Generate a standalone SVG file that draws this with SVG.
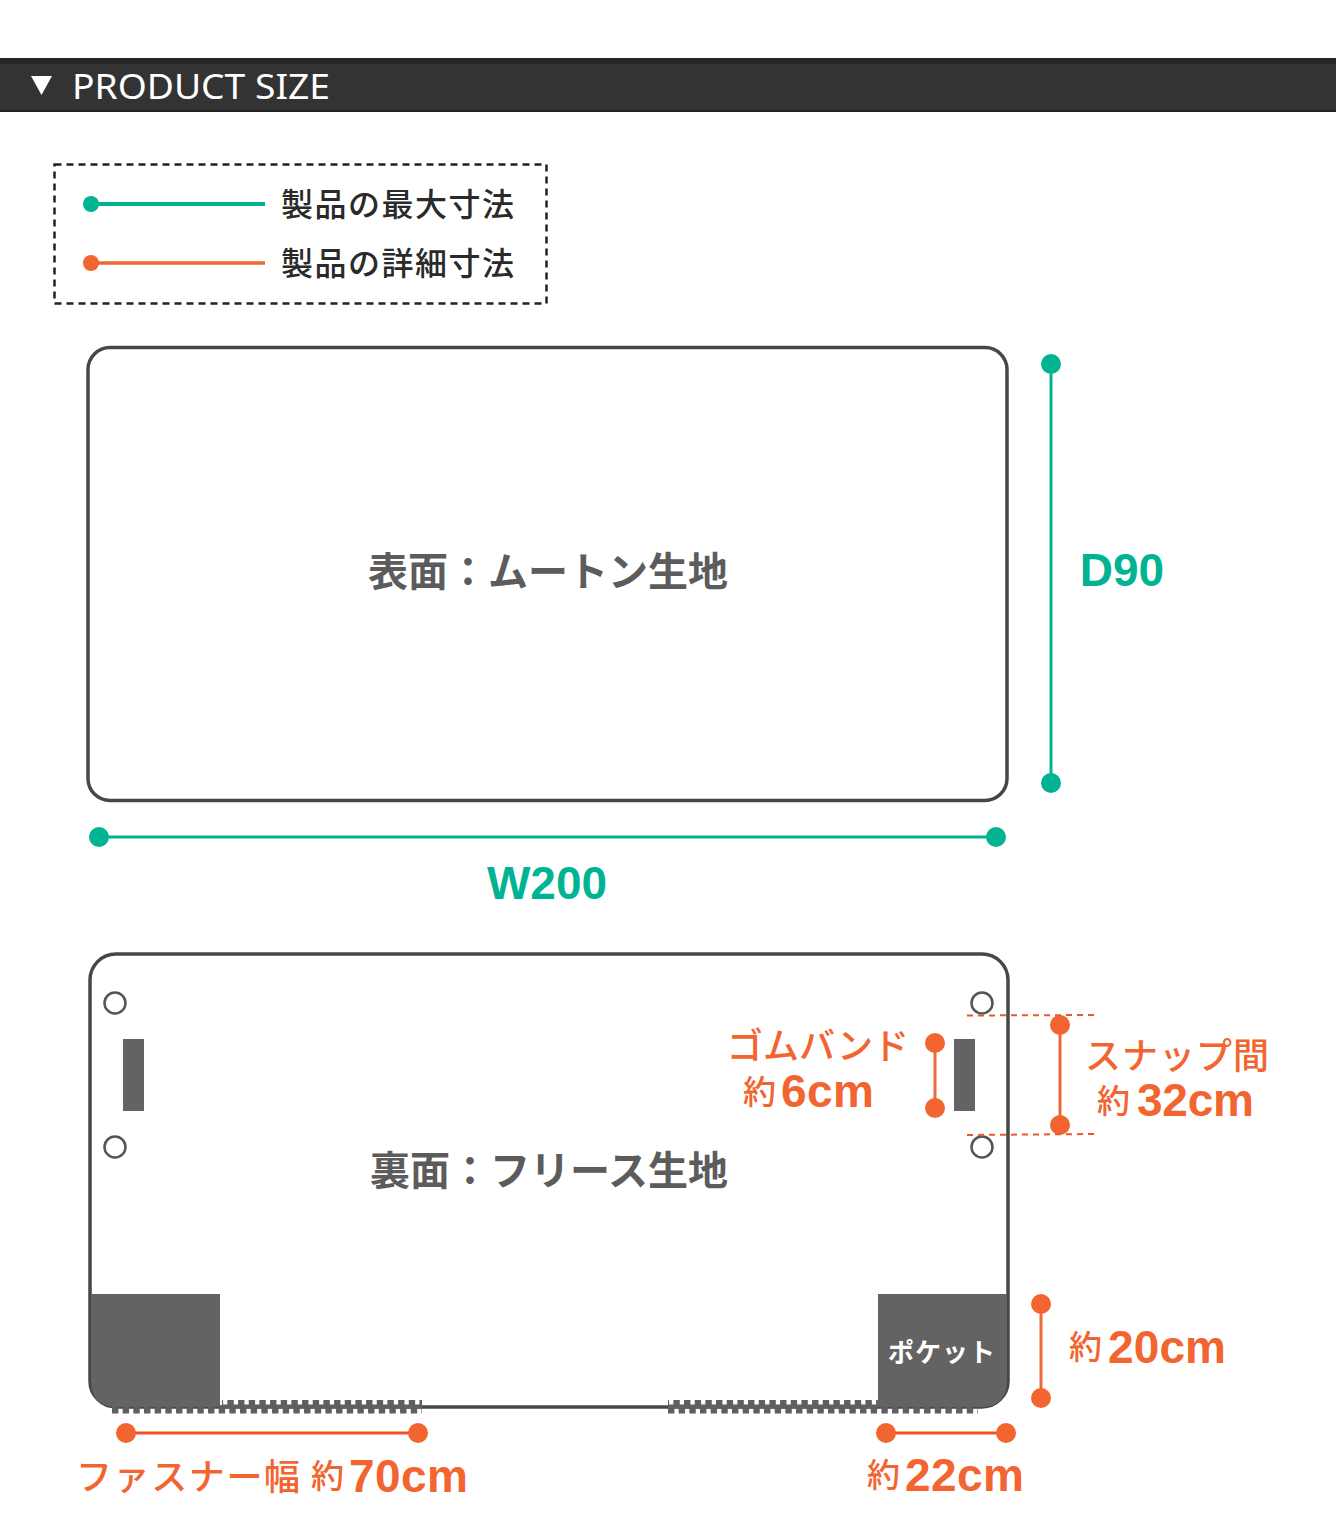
<svg xmlns="http://www.w3.org/2000/svg" width="1336" height="1536" viewBox="0 0 1336 1536">
<defs>
<style>
text{font-family:"Noto Sans CJK JP","Noto Sans",sans-serif}
.o{fill:#f26430}.g{fill:#00b493}
.ol{stroke:#e8693a;stroke-width:3;fill:none}.gl{stroke:#00b493;stroke-width:3;fill:none}
.dot{stroke:#e85a28;stroke-width:2;stroke-dasharray:6 5;fill:none}
.num{font-family:"Liberation Sans",Arial,sans-serif;font-weight:700}
.big{font-size:40px;font-weight:700;fill:#5c5c5c}
.lab{font-size:36px;fill:#f26430;font-weight:500}
.yak{font-size:33px;fill:#f26430;font-weight:500}
.cnt{font-size:46px;fill:#f26430}
.leg{font-size:32px;fill:#2a2a2a;font-weight:500}
.tooth{stroke:#5f5f5f;stroke-width:7;stroke-dasharray:6.4 4.27;fill:none}
.hole{fill:#fff;stroke:#555;stroke-width:2.5}
.dark{fill:#636363}
.board{fill:#fff;stroke:#474747;stroke-width:3.500}
</style>
</defs>
<rect width="1336" height="1536" fill="#fff"/>
<g id="header">
<rect x="0" y="58" width="1336" height="54" fill="#333"/>
<rect x="0" y="58" width="1336" height="6" fill="#262626"/>
<rect x="0" y="110" width="1336" height="2" fill="#222"/>
<polygon points="31,76 52,76 41.500,95" fill="#fff"/>
<text x="72" y="99" font-size="35" fill="#fff" style="font-family:'Noto Sans',sans-serif" textLength="258" lengthAdjust="spacingAndGlyphs">PRODUCT SIZE</text>
</g>
<g id="legend">
<rect x="54.500" y="164.500" width="492" height="139" fill="none" stroke="#222" stroke-width="2.500" stroke-dasharray="7 5"/>
<circle cx="91" cy="204" r="8" class="g"/>
<line x1="91" y1="204" x2="265" y2="204" class="gl" style="stroke-width:4"/>
<text x="281" y="216" class="leg" textLength="233">製品の最大寸法</text>
<circle cx="91" cy="263" r="8" class="o"/>
<line x1="91" y1="263" x2="265" y2="263" class="ol" style="stroke:#f26430;stroke-width:3.500"/>
<text x="281" y="275" class="leg" textLength="233">製品の詳細寸法</text>
</g>
<g id="front-panel">
<rect x="88" y="347.500" width="919" height="453" rx="22" class="board"/>
<text x="548" y="586" text-anchor="middle" class="big">表面：ムートン生地</text>
</g>
<g id="back-panel">
<rect x="90" y="954" width="918" height="453" rx="26" class="board"/>
<path class="dark" d="M91,1294H220V1407H116Q91,1407 91,1380Z"/>
<path class="dark" d="M878,1294H1007V1380Q1007,1407 982,1407H878Z"/>
<circle cx="115" cy="1003" r="10.500" class="hole"/>
<circle cx="115" cy="1147" r="10.500" class="hole"/>
<circle cx="982" cy="1003" r="10.500" class="hole"/>
<circle cx="982" cy="1147" r="10.500" class="hole"/>
<rect x="123" y="1039" width="21" height="72" class="dark"/>
<rect x="954" y="1039" width="21" height="72" class="dark"/>
<text x="549" y="1185" text-anchor="middle" class="big">裏面：フリース生地</text>
<text x="942" y="1362" text-anchor="middle" font-size="26" font-weight="700" fill="#fff" letter-spacing="1">ポケット</text>
</g>
<g id="zippers">
<line x1="222" y1="1403.500" x2="422" y2="1403.500" class="tooth" stroke-dashoffset="5.3"/>
<line x1="112" y1="1410" x2="422" y2="1410" class="tooth"/>
<rect x="222" y="1404.500" width="200" height="4" fill="#5f5f5f"/>
<line x1="668" y1="1403.500" x2="878" y2="1403.500" class="tooth" stroke-dashoffset="5.3"/>
<line x1="668" y1="1410" x2="978" y2="1410" class="tooth"/>
<rect x="668" y="1404.500" width="210" height="4" fill="#5f5f5f"/>
</g>
<g id="connectors">
<line x1="1051" y1="364" x2="1051" y2="783" class="gl"/>
<circle cx="1051" cy="364" r="10" class="g"/><circle cx="1051" cy="783" r="10" class="g"/>
<line x1="99" y1="837" x2="996" y2="837" class="gl"/>
<circle cx="99" cy="837" r="10" class="g"/><circle cx="996" cy="837" r="10" class="g"/>
<line x1="935" y1="1043" x2="935" y2="1108" class="ol"/>
<circle cx="935" cy="1043" r="10" class="o"/><circle cx="935" cy="1108" r="10" class="o"/>
<line x1="1060" y1="1025" x2="1060" y2="1125" class="ol"/>
<circle cx="1060" cy="1025" r="10" class="o"/><circle cx="1060" cy="1125" r="10" class="o"/>
<line x1="967" y1="1015.500" x2="1095" y2="1015" class="dot"/>
<line x1="967" y1="1135" x2="1095" y2="1134" class="dot"/>
<line x1="1041" y1="1304" x2="1041" y2="1398" class="ol"/>
<circle cx="1041" cy="1304" r="10" class="o"/><circle cx="1041" cy="1398" r="10" class="o"/>
<line x1="126" y1="1433" x2="418" y2="1433" class="ol" style="stroke:#f4511e"/>
<circle cx="126" cy="1433" r="10" class="o"/><circle cx="418" cy="1433" r="10" class="o"/>
<line x1="886" y1="1433" x2="1006" y2="1433" class="ol" style="stroke:#f4511e"/>
<circle cx="886" cy="1433" r="10" class="o"/><circle cx="1006" cy="1433" r="10" class="o"/>
</g>
<g id="labels">
<text x="1122" y="586" text-anchor="middle" class="num g" font-size="46">D90</text>
<text x="547" y="899" text-anchor="middle" class="num g" font-size="46">W200</text>
<text x="727" y="1059" class="lab" textLength="182">ゴムバンド</text>
<text x="743" y="1104" class="yak">約</text><text x="781" y="1107" class="num cnt" textLength="93">6cm</text>
<text x="1085" y="1069" class="lab" textLength="184">スナップ間</text>
<text x="1097" y="1113" class="yak">約</text><text x="1137" y="1116" class="num cnt" textLength="117">32cm</text>
<text x="1069" y="1359" class="yak">約</text><text x="1108" y="1363" class="num cnt" textLength="118">20cm</text>
<text x="76" y="1490" class="lab" textLength="224">ファスナー幅</text>
<text x="311" y="1488" class="yak">約</text><text x="349" y="1492" class="num cnt" textLength="119">70cm</text>
<text x="867" y="1487" class="yak">約</text><text x="905" y="1491" class="num cnt" textLength="119">22cm</text>
</g>
</svg>
